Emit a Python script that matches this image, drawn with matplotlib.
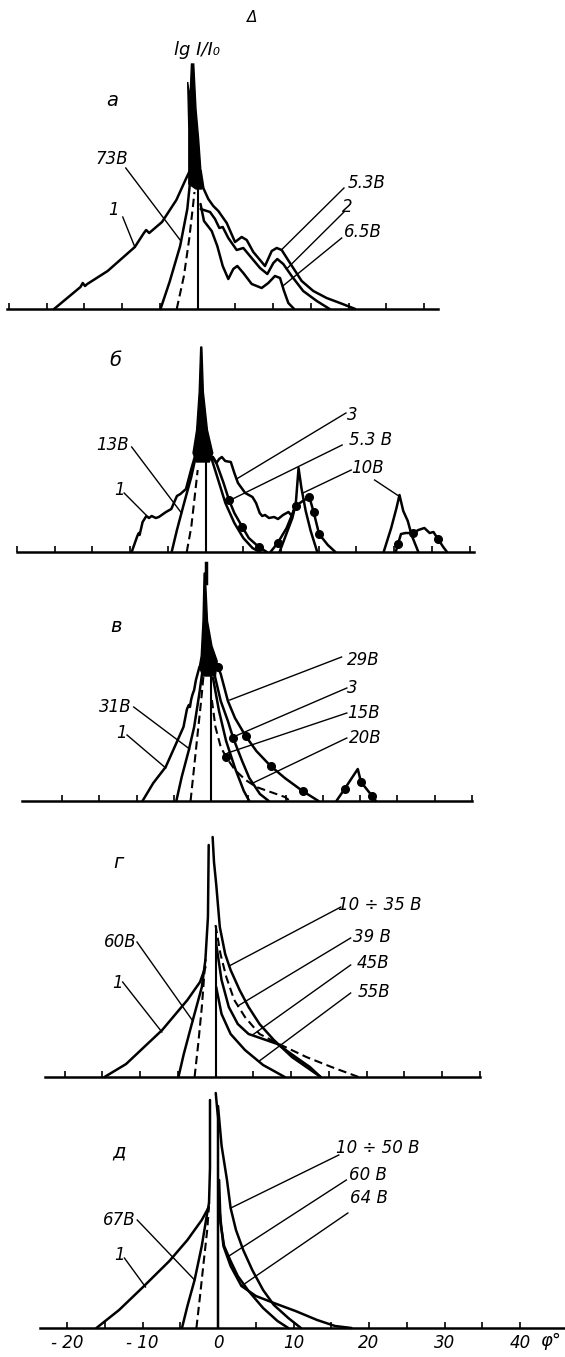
import matplotlib.pyplot as plt

plt.rcParams['font.family'] = ['DejaVu Sans']

# ===================== ДАННЫЕ (φ, градусы; lg I/I0, усл. ед.) =====================
# --- панель а ---
a_c1_phi = [-19.0, -15.5, -15.2, -14.9, -14.6, -11.9, -8.3, -7.1, -6.8, -6.4, -4.7, -2.8, -1.6, -1.1]
a_c1_lg = [0, 2.2, 2.6, 2.3, 2.5, 3.8, 6.2, 7.6, 7.9, 7.6, 8.7, 10.9, 12.9, 13.7]
a_73_phi = [-4.9, -3.7, -2.3, -1.35, -0.85]
a_73_lg = [0, 2.7, 6.3, 10.0, 13.7]
a_dash_phi = [-2.75, -1.8, -1.1, -0.6, -0.4]
a_dash_lg = [0, 3.3, 7.0, 10.3, 11.7]
a_53_phi = [0.42, 0.77, 1.43, 2.09, 2.76, 3.87, 4.97, 5.85, 6.52, 7.39, 8.94, 9.83, 10.49,
            11.15, 12.25, 13.8, 15.34, 17.1, 18.87, 20.9]
a_53_lg = [13.8, 12.1, 11.0, 10.3, 9.8, 8.6, 6.7, 7.2, 6.9, 5.7, 4.3, 5.8, 6.1, 5.9, 4.6, 2.8,
           1.8, 1.1, 0.6, 0]
a_2_phi = [0.42, 1.66, 2.32, 2.89, 3.34, 4.08, 5.19, 6.07, 6.95, 8.28, 9.25, 10.05, 10.57,
           11.36, 12.47, 14.0, 15.8, 17.5]
a_2_lg = [10.0, 9.7, 9.0, 8.1, 8.2, 7.1, 5.9, 6.1, 5.3, 4.1, 3.5, 4.6, 5.0, 4.5, 3.3, 1.8, 0.8, 0]
a_65_phi = [0.4, 0.86, 1.88, 2.62, 3.34, 4.08, 4.74, 5.27, 6.07, 7.18, 8.5, 9.38, 10.26, 10.93,
            11.46, 12.03, 12.8]
a_65_lg = [10.5, 8.8, 7.8, 6.3, 4.3, 3.0, 4.0, 4.3, 3.6, 2.5, 2.1, 2.6, 3.3, 3.1, 1.8, 0.6, 0]
a_spike_phi = [-1.15, -1.15, -1.3, -1.0, -0.8, -0.5, -0.2, 0.15, 0.45, 0.6, -0.2, -1.15]
a_spike_lg = [12.5, 18.0, 22.7, 21.0, 24.5, 24.5, 20.0, 17.0, 13.8, 12.0, 12.0, 12.5]
a_vert_lg = 15.5

# --- панель б ---
b_c1_phi = [-9.8, -9.05, -8.85, -8.75, -8.35, -7.85, -7.5, -7.15, -6.6, -6.2, -5.25, -4.55,
            -3.8, -3.35, -2.6, -1.9, -1.4]
b_c1_lg = [0, 1.6, 1.9, 1.7, 3.0, 3.6, 3.4, 3.6, 3.4, 3.5, 4.0, 4.3, 5.6, 5.8, 6.3, 8.3, 9.6]
b_13_phi = [-4.5, -3.8, -2.85, -1.9, -1.2]
b_13_lg = [0, 2.2, 4.9, 7.5, 9.9]
b_dash_phi = [-2.5, -1.9, -1.45, -1.05]
b_dash_lg = [0, 2.5, 5.5, 8.2]
b_3_phi = [0.95, 1.43, 1.8, 2.15, 2.6, 3.34, 3.81, 4.29, 5.25, 6.21, 6.69, 7.17, 7.5, 7.88,
           8.4, 9.07, 9.6, 10.26, 10.98, 11.45, 11.93]
b_3_lg = [9.5, 8.9, 9.3, 9.5, 9.1, 9.0, 7.9, 6.9, 5.9, 5.5, 4.9, 3.9, 3.6, 3.7, 3.4, 3.5, 3.3,
          3.7, 4.0, 3.6, 4.8]
b_in_phi = [0.72, 1.67, 2.62, 3.81, 5.0, 6.21, 7.17]
b_in_lg = [9.5, 7.2, 4.9, 2.9, 1.4, 0.4, 0]
b_53_phi = [0.95, 1.43, 2.38, 3.1, 3.81, 4.87, 5.72, 7.06, 8.12]
b_53_lg = [9.5, 8.9, 6.9, 5.2, 3.9, 2.5, 1.4, 0.5, 0]
b_53_dots = [3, 5, 7]
b_pk_phi = [9.8, 10.7, 11.5, 11.95, 12.32, 12.7, 13.27, 13.93, 14.8]
b_pk_lg = [0, 1.8, 3.4, 4.8, 8.4, 6.4, 4.1, 2.1, 0]
b_10_phi = [8.6, 9.55, 10.74, 11.93, 12.88, 13.75, 14.32, 15.04, 16.2, 17.2]
b_10_lg = [0, 0.9, 2.4, 4.6, 5.1, 5.5, 4.0, 1.8, 0.7, 0]
b_10_dots = [1, 3, 5, 6, 7]
b_pkB_phi = [23.6, 24.6, 25.3, 25.7, 26.2, 26.8, 27.3, 28.2]
b_pkB_lg = [0, 2.4, 4.4, 5.7, 4.1, 3.1, 1.7, 0]
b_10B_phi = [25.2, 25.5, 25.9, 26.5, 27.5, 28.2, 29.0, 29.7, 30.2, 30.8, 31.5, 32.0]
b_10B_lg = [0, 0.8, 1.8, 1.9, 1.9, 2.2, 2.4, 1.9, 2.0, 1.3, 0.5, 0]
b_10B_dots = [1, 4, 9]
b_spike_phi = [-1.67, -1.19, -0.85, -0.65, -0.5, -0.3, 0.24, 0.95, 0.5, -1.2]
b_spike_lg = [9.9, 12.2, 16.0, 20.5, 20.5, 16.0, 12.2, 9.9, 9.0, 9.0]
b_vert_lg = 10.0

# --- панель в ---
v_c1_phi = [-9.22, -7.77, -6.11, -4.91, -3.72, -3.25, -3.0, -2.85, -2.7, -2.53, -2.29, -2.05, -1.58]
v_c1_lg = [0, 1.8, 3.4, 5.4, 7.4, 9.2, 9.6, 9.4, 10.1, 10.6, 11.1, 12.1, 13.4]
v_31_phi = [-4.68, -3.96, -3.0, -2.29, -1.58, -1.1]
v_31_lg = [0, 2.4, 5.1, 7.4, 10.8, 13.4]
v_dash_phi = [-2.77, -2.29, -1.81, -1.34, -1.0]
v_dash_lg = [0, 3.4, 6.8, 10.1, 12.8]
v_29_phi = [0.57, 0.9, 1.28, 2.24, 3.19, 4.62, 6.06, 7.97, 9.88, 12.26, 14.4]
v_29_lg = [14.0, 13.4, 12.7, 10.0, 8.3, 6.5, 5.0, 3.5, 2.3, 1.0, 0]
v_29_dots = [1, 5, 7, 9]
v_3_phi = [0.33, 1.28, 2.24, 2.95, 4.15, 5.11, 6.54, 7.73]
v_3_lg = [13.0, 10.0, 8.0, 6.3, 4.0, 2.3, 0.7, 0]
v_3_dots = [3]
v_15_phi = [0.24, 1.05, 2.0, 3.19, 4.38, 5.11]
v_15_lg = [12.3, 9.0, 6.0, 3.3, 1.0, 0]
v_20_phi = [0.09, 0.57, 1.28, 2.0, 3.19, 4.62, 6.06, 7.97, 9.88, 10.6]
v_20_lg = [10.1, 7.4, 5.4, 4.4, 3.1, 2.1, 1.4, 0.9, 0.4, 0]
v_20_dots = [3]
v_sat_phi = [16.8, 17.9, 19.67, 20.1, 21.6, 22.1]
v_sat_lg = [0, 1.2, 3.2, 1.9, 0.5, 0]
v_sat_dots = [1, 3, 4]
v_spike_phi = [-1.6, -1.34, -1.1, -0.95, -0.8, -0.5, 0.1, 0.8, 0.57, -1.1]
v_spike_lg = [13.4, 14.5, 18.0, 22.8, 22.8, 18.0, 15.5, 14.0, 12.5, 12.5]
v_vert_lg = 14.0

# --- панель г ---
g_c1_phi = [-14.7, -11.84, -7.06, -3.72, -2.05, -1.34]
g_c1_lg = [0, 1.3, 4.7, 7.7, 9.5, 11.0]
g_60_phi = [-4.91, -4.2, -3.25, -2.53, -1.81, -1.34]
g_60_lg = [0, 2.3, 5.0, 7.0, 9.0, 11.7]
g_dash_phi = [-2.77, -2.29, -1.81, -1.34]
g_dash_lg = [0, 3.3, 7.0, 11.7]
g_left_phi = [-1.34, -1.0, -0.9]
g_left_lg = [11.7, 16.0, 23.2]
g_35_phi = [-0.38, -0.2, 0.09, 0.57, 1.28, 2.0, 3.19, 4.38, 5.83, 7.73, 10.12, 12.03, 13.93]
g_35_lg = [24.0, 21.5, 19.3, 15.0, 12.3, 10.7, 8.7, 7.0, 5.3, 3.7, 2.0, 1.0, 0]
g_39_phi = [0, 0.66, 1.43, 2.48, 3.9, 5.83, 8.68, 12.03, 15.36, 18.95]
g_39_lg = [15.2, 12.3, 10.0, 7.7, 6.0, 4.3, 3.2, 2.0, 1.0, 0]
g_45_phi = [0.09, 0.8, 1.76, 2.95, 4.38, 6.3, 8.2, 10.6, 12.5, 13.93]
g_45_lg = [13.3, 9.7, 7.0, 5.3, 4.3, 3.8, 3.3, 2.0, 1.0, 0]
g_55_phi = [0.09, 0.8, 2.0, 3.9, 6.3, 9.17]
g_55_lg = [9.0, 6.3, 4.3, 2.7, 1.2, 0]
g_vert_lg = 15.0

# --- панель д ---
d_c1_phi = [-16.1, -13.1, -9.79, -6.44, -4.05, -2.15, -1.28]
d_c1_lg = [0, 1.8, 4.2, 6.7, 8.8, 10.8, 12.0]
d_67_phi = [-4.77, -4.05, -3.1, -2.15, -1.43, -1.19]
d_67_lg = [0, 2.2, 4.8, 8.2, 11.5, 12.5]
d_dash_phi = [-2.86, -2.38, -1.91, -1.43, -1.19]
d_dash_lg = [0, 3.2, 6.5, 9.8, 12.2]
d_left_phi = [-1.19, -1.06, -1.06]
d_left_lg = [12.5, 16.0, 22.8]
d_vert_phi = [0, 0, -0.3]
d_vert_lg = [0, 21.0, 23.5]
d_50_phi = [0, 0.48, 1.19, 1.67, 2.38, 3.34, 4.54, 5.97, 7.4, 9.31, 10.98]
d_50_lg = [22.2, 18.2, 14.8, 12.0, 9.8, 7.8, 5.8, 3.8, 2.3, 1.0, 0]
d_60_phi = [0.15, 0.33, 0.81, 1.67, 2.62, 4.05, 5.97, 7.88, 9.31]
d_60_lg = [14.8, 10.5, 8.2, 6.7, 5.2, 3.7, 2.0, 0.7, 0]
d_64_phi = [0.24, 0.72, 1.67, 3.1, 5.02, 7.4, 10.26, 13.13, 15.5, 17.67]
d_64_lg = [11.5, 8.2, 6.2, 4.2, 3.2, 2.5, 1.7, 0.8, 0.2, 0]

tick_labels = ['- 20', '', '- 10', '', '0', '', '10', '', '20', '', '30', '', '40']

# ===================== ОФОРМЛЕНИЕ =====================
W, H = 565, 1357
PX_DEG = 7.55
PX_LG = 10.0
LW = 1.8
LW_THIN = 1.0
DASH = (0, (4, 2.2))
FS = 12

fig = plt.figure(figsize=(W / 100, H / 100), dpi=100)
fig.patch.set_facecolor('white')


def make_panel(x0, base, xl, xr, ticks):
    ax = fig.add_axes([xl / W, 1 - base / H, (xr - xl) / W, 300 / H])
    ax.set_xlim((xl - x0) / PX_DEG, (xr - x0) / PX_DEG)
    ax.set_ylim(0, 300 / PX_LG)
    ax.patch.set_visible(False)
    for s in ['top', 'left', 'right']:
        ax.spines[s].set_visible(False)
    ax.spines['bottom'].set_linewidth(1.8)
    ax.set_xticks(ticks)
    ax.tick_params(axis='x', direction='in', length=4.5, width=1.2, labelbottom=False)
    ax.set_yticks([])
    return ax


def curve(ax, x, y, dashed=False, dots=None):
    ax.plot(x, y, color='k', lw=LW if not dashed else 1.5, ls=DASH if dashed else '-',
            solid_joinstyle='round', solid_capstyle='round', clip_on=False)
    if dots:
        ax.plot([x[i] for i in dots], [y[i] for i in dots], 'o', color='k', ms=5.5, clip_on=False)


def label(ax, x, y, s, leader=None, fs=FS):
    ax.text(x, y, s, fontsize=fs, style='italic', ha='center', va='center')
    if leader:
        (x1, y1), (x2, y2) = leader
        ax.plot([x1, x2], [y1, y2], color='k', lw=LW_THIN, clip_on=False)


# ---------- а ----------
ax = make_panel(197.5, 309, 6.5, 438, list(range(-25, 31, 5)))
ax.fill(a_spike_phi, a_spike_lg, color='k', lw=1, clip_on=False)
curve(ax, a_c1_phi, a_c1_lg)
curve(ax, a_73_phi, a_73_lg)
curve(ax, a_dash_phi, a_dash_lg, dashed=True)
ax.plot([0, 0], [0, a_vert_lg], color='k', lw=1.5)
curve(ax, a_53_phi, a_53_lg)
curve(ax, a_2_phi, a_2_lg)
curve(ax, a_65_phi, a_65_lg)
label(ax, 7.2, 29.1, 'Δ', fs=11)
label(ax, -0.1, 25.9, 'lg I/I₀', fs=13)
label(ax, -11.3, 20.9, 'а', fs=14)
label(ax, -11.4, 15.0, '73В', leader=((-9.5, 14.1), (-2.3, 6.9)))
label(ax, -11.1, 9.9, '1', leader=((-9.9, 9.2), (-8.3, 6.2)))
label(ax, 22.4, 12.6, '5.3В', leader=((19.4, 12.1), (11.1, 5.9)))
label(ax, 19.9, 10.2, '2', leader=((19.4, 9.7), (11.8, 4.0)))
label(ax, 21.9, 7.7, '6.5В', leader=((19.1, 7.1), (11.3, 2.3)))

# ---------- б ----------
ax = make_panel(205.4, 552, 17, 474, list(range(-25, 36, 5)))
ax.fill(b_spike_phi, b_spike_lg, color='k', lw=1, clip_on=False)
curve(ax, b_c1_phi, b_c1_lg)
curve(ax, b_13_phi, b_13_lg)
curve(ax, b_dash_phi, b_dash_lg, dashed=True)
ax.plot([0, 0], [0, b_vert_lg], color='k', lw=1.5)
curve(ax, b_3_phi, b_3_lg)
curve(ax, b_in_phi, b_in_lg)
curve(ax, b_53_phi, b_53_lg, dots=b_53_dots)
curve(ax, b_pk_phi, b_pk_lg)
curve(ax, b_10_phi, b_10_lg, dots=b_10_dots)
curve(ax, b_pkB_phi, b_pkB_lg)
curve(ax, b_10B_phi, b_10B_lg, dots=b_10B_dots)
ax.plot([0.1, 0.1], [-1.1, -3.1], color='k', lw=2.5, clip_on=False)
label(ax, -12.0, 19.2, 'б', fs=14)
label(ax, -12.3, 10.7, '13В', leader=((-9.8, 10.5), (-3.2, 3.9)))
label(ax, -11.4, 6.2, '1', leader=((-10.8, 5.9), (-7.9, 3.7)))
label(ax, 19.5, 13.7, '3', leader=((18.6, 13.9), (4.1, 7.3)))
label(ax, 21.9, 11.2, '5.3 В', leader=((18.1, 10.7), (3.3, 5.2)))
label(ax, 21.5, 8.4, '10В', leader=((19.3, 8.2), (12.9, 5.9)))
ax.plot([22.4, 25.6], [7.2, 5.6], color='k', lw=LW_THIN)

# ---------- в ----------
ax = make_panel(213.7, 801, 22, 472, list(range(-20, 36, 5)))
ax.fill(v_spike_phi, v_spike_lg, color='k', lw=1, clip_on=False)
curve(ax, v_c1_phi, v_c1_lg)
curve(ax, v_31_phi, v_31_lg)
curve(ax, v_dash_phi, v_dash_lg, dashed=True)
ax.plot([0, 0], [0, v_vert_lg], color='k', lw=1.5)
curve(ax, v_29_phi, v_29_lg, dots=v_29_dots)
curve(ax, v_3_phi, v_3_lg, dots=v_3_dots)
curve(ax, v_15_phi, v_15_lg)
curve(ax, v_20_phi, v_20_lg, dashed=True, dots=v_20_dots)
curve(ax, v_sat_phi, v_sat_lg, dots=v_sat_dots)
label(ax, -12.8, 17.4, 'в', fs=14)
label(ax, -12.9, 9.4, '31В', leader=((-10.4, 9.4), (-2.9, 5.2)))
label(ax, -12.1, 6.8, '1', leader=((-11.3, 6.6), (-6.1, 3.3)))
label(ax, 20.4, 14.1, '29В', leader=((17.5, 14.4), (2.5, 10.1)))
label(ax, 19.0, 11.3, '3', leader=((18.2, 11.3), (2.95, 6.4)))
label(ax, 20.5, 8.8, '15В', leader=((18.2, 8.8), (2.2, 4.8)))
label(ax, 20.7, 6.3, '20В', leader=((18.2, 6.3), (5.6, 1.8)))

# ---------- г ----------
ax = make_panel(215.5, 1077, 45, 480, list(range(-20, 36, 5)))
curve(ax, g_c1_phi, g_c1_lg)
curve(ax, g_60_phi, g_60_lg)
curve(ax, g_dash_phi, g_dash_lg, dashed=True)
curve(ax, g_left_phi, g_left_lg)
ax.plot([0, 0], [0, g_vert_lg], color='k', lw=1.5)
curve(ax, g_35_phi, g_35_lg)
curve(ax, g_39_phi, g_39_lg, dashed=True)
curve(ax, g_45_phi, g_45_lg)
curve(ax, g_55_phi, g_55_lg)
label(ax, -12.8, 21.4, 'г', fs=14)
label(ax, -12.6, 13.5, '60В', leader=((-10.4, 13.5), (-3.0, 5.6)))
label(ax, -13.0, 9.4, '1', leader=((-12.3, 9.5), (-7.1, 4.5)))
label(ax, 21.7, 17.2, '10 ÷ 35 В', leader=((16.6, 17.0), (1.8, 11.1)))
label(ax, 20.7, 14.0, '39 В', leader=((17.9, 13.9), (2.95, 7.1)))
label(ax, 20.9, 11.4, '45В', leader=((17.9, 11.2), (4.9, 4.2)))
label(ax, 21.0, 8.5, '55В', leader=((17.9, 8.4), (5.8, 1.6)))

# ---------- д ----------
ax = make_panel(218, 1328, 40, 565, list(range(-20, 41, 5)))
ax.set_xticklabels(tick_labels, fontsize=FS, style='italic')
ax.tick_params(axis='x', labelbottom=True, pad=4)
curve(ax, d_c1_phi, d_c1_lg)
curve(ax, d_67_phi, d_67_lg)
curve(ax, d_dash_phi, d_dash_lg, dashed=True)
curve(ax, d_left_phi, d_left_lg)
curve(ax, d_vert_phi, d_vert_lg)
curve(ax, d_50_phi, d_50_lg)
curve(ax, d_60_phi, d_60_lg)
curve(ax, d_64_phi, d_64_lg)
label(ax, -13.1, 17.6, 'д', fs=14)
label(ax, -13.1, 10.8, '67В', leader=((-10.7, 10.8), (-3.1, 4.8)))
label(ax, -13.1, 7.3, '1', leader=((-12.4, 7.0), (-9.6, 4.1)))
label(ax, 21.2, 18.0, '10 ÷ 50 В', leader=((16.0, 17.3), (1.7, 12.0)))
label(ax, 19.9, 15.3, '60 В', leader=((17.0, 14.8), (1.45, 7.2)))
label(ax, 20.0, 13.0, '64 В', leader=((17.2, 11.5), (3.1, 4.2)))
ax.text(44.1, -1.3, 'φ°', fontsize=13, style='italic', ha='center', va='center')

plt.savefig('out.png', dpi=100, facecolor='white')
